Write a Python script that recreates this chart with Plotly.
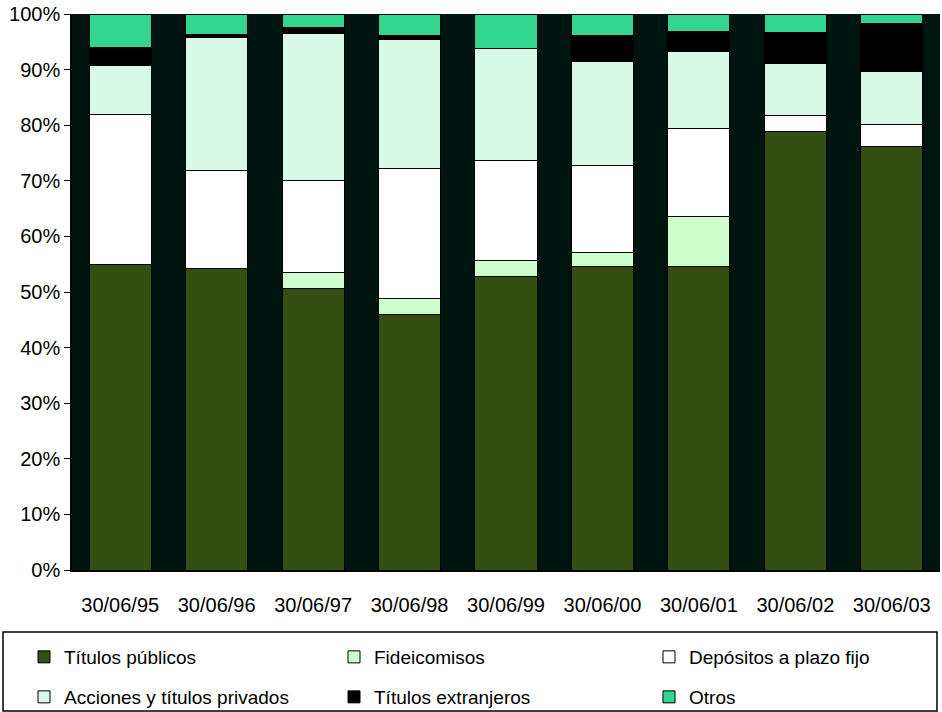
import plotly.graph_objects as go

# Portfolio composition by date (% of total)
fechas = ["30/06/95", "30/06/96", "30/06/97", "30/06/98", "30/06/99",
          "30/06/00", "30/06/01", "30/06/02", "30/06/03"]

titulos_publicos = [55.0, 54.3, 50.6, 46.0, 52.8, 54.6, 54.6, 78.8, 76.2]
fideicomisos = [0.0, 0.0, 2.9, 2.8, 2.9, 2.5, 8.9, 0.0, 0.0]
depositos_plazo_fijo = [27.0, 17.6, 16.6, 23.4, 18.0, 15.6, 15.9, 2.9, 4.0]
acciones_titulos_privados = [8.8, 23.9, 26.4, 23.2, 20.1, 18.7, 13.8, 9.4, 9.4]
titulos_extranjeros = [3.2, 0.5, 1.0, 0.7, 0.0, 4.8, 3.6, 5.6, 8.7]
otros = [6.0, 3.7, 2.5, 3.9, 6.2, 3.8, 3.2, 3.3, 1.7]

series = [
    ("Títulos públicos", titulos_publicos, "#334F11"),
    ("Fideicomisos", fideicomisos, "#CCFFCC"),
    ("Depósitos a plazo fijo", depositos_plazo_fijo, "#FFFFFF"),
    ("Acciones y títulos privados", acciones_titulos_privados, "#D8F8E8"),
    ("Títulos extranjeros", titulos_extranjeros, "#000000"),
    ("Otros", otros, "#33D690"),
]

W, H = 942, 712
L, R, T, B = 72, 2, 14, 142
pw, ph = W - L - R, H - T - B


def px_x(x):
    return (x - L) / pw


def px_y(y):
    return (H - B - y) / ph


# legend slots: 3 columns x 2 rows
legend_cols = [24, 334, 649]
legend_rows = [657, 697]

fig = go.Figure()
legend_layout = {}
for i, (name, vals, color) in enumerate(series):
    key = "legend" if i == 0 else f"legend{i + 1}"
    fig.add_trace(go.Bar(
        x=fechas, y=vals, name=name, legend=key,
        marker=dict(color=color, line=dict(color="#000000", width=1)),
    ))
    legend_layout[key] = dict(
        x=px_x(legend_cols[i % 3]), y=px_y(legend_rows[i // 3]),
        xanchor="left", yanchor="middle",
        bgcolor="rgba(0,0,0,0)", borderwidth=0,
        font=dict(family="Liberation Sans, Arial", size=19, color="#000000"),
    )

fig.update_layout(
    width=W, height=H,
    margin=dict(l=L, r=R, t=T, b=B, autoexpand=False),
    barmode="stack", bargap=0.357,
    plot_bgcolor="#001510", paper_bgcolor="#FFFFFF",
    font=dict(family="Liberation Sans, Arial", size=20, color="#000000"),
    showlegend=True,
    **legend_layout,
    shapes=[dict(
        type="rect", xref="paper", yref="paper",
        x0=px_x(3), x1=px_x(937), y0=px_y(632), y1=px_y(711),
        line=dict(color="#000000", width=1.5), fillcolor="rgba(0,0,0,0)",
    )],
)
fig.update_xaxes(
    showline=True, linecolor="#000000", linewidth=1.5,
    ticks="", showgrid=False, ticklabelstandoff=16,
    tickfont=dict(size=20), automargin=False,
)
fig.update_yaxes(
    range=[0, 100], dtick=10, ticksuffix="%",
    showline=True, linecolor="#000000", linewidth=1.5,
    ticks="outside", ticklen=6, tickcolor="#000000",
    showgrid=False, zeroline=False, tickfont=dict(size=20), automargin=False,
)

fig.write_html("out.html")
